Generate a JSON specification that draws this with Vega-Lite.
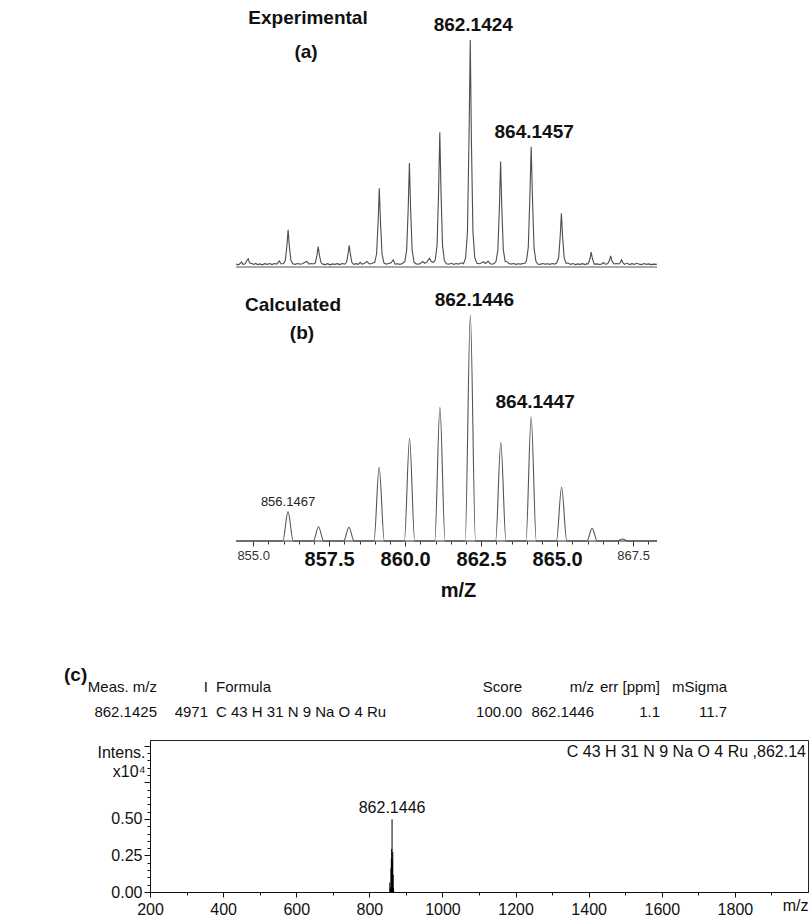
{
  "$schema": "https://vega.github.io/schema/vega-lite/v6.json",
  "padding": {"left": 64, "top": 0, "right": 0, "bottom": 0},
  "bounds": "flush",
  "spacing": 0,
  "config": {
    "view": {"stroke": null},
    "font": "Liberation Sans, Arial, sans-serif",
    "text": {"font": "Liberation Sans, Arial, sans-serif", "color": "#111"}
  },
  "datasets": {
    "experimental": [
      {"mz":854.44,"i":0.6},{"mz":854.52,"i":0.3},{"mz":854.58,"i":1.0},{"mz":854.62,"i":1.6},{"mz":854.67,"i":0.4},{"mz":854.74,"i":0.8},{"mz":854.80,"i":2.4},{"mz":854.84,"i":3.0},{"mz":854.88,"i":1.2},{"mz":854.95,"i":0.9},
      {"mz":855.02,"i":0.5},{"mz":855.08,"i":0.9},{"mz":855.15,"i":0.4},{"mz":855.22,"i":0.7},{"mz":855.30,"i":0.3},{"mz":855.38,"i":0.8},{"mz":855.46,"i":0.5},{"mz":855.55,"i":0.9},{"mz":855.62,"i":0.4},{"mz":855.70,"i":0.9},{"mz":855.78,"i":0.6},{"mz":855.86,"i":2.0},{"mz":855.92,"i":0.7},
      {"mz":856.00,"i":0.9},{"mz":856.06,"i":2.4},{"mz":856.11,"i":8.7},{"mz":856.15,"i":15.8},{"mz":856.19,"i":8.7},{"mz":856.24,"i":2.4},{"mz":856.30,"i":0.8},
      {"mz":856.38,"i":0.5},{"mz":856.46,"i":0.9},{"mz":856.54,"i":0.6},{"mz":856.62,"i":0.8},{"mz":856.70,"i":1.4},{"mz":856.77,"i":1.8},{"mz":856.84,"i":0.6},{"mz":856.91,"i":0.9},
      {"mz":856.99,"i":0.7},{"mz":857.05,"i":1.3},{"mz":857.10,"i":4.6},{"mz":857.14,"i":8.4},{"mz":857.18,"i":4.6},{"mz":857.23,"i":1.3},{"mz":857.29,"i":0.6},
      {"mz":857.37,"i":0.4},{"mz":857.45,"i":0.8},{"mz":857.53,"i":0.3},{"mz":857.61,"i":0.7},{"mz":857.69,"i":0.5},{"mz":857.77,"i":0.8},{"mz":857.85,"i":0.4},{"mz":857.93,"i":0.9},
      {"mz":858.01,"i":0.6},{"mz":858.07,"i":1.3},{"mz":858.12,"i":4.9},{"mz":858.16,"i":8.9},{"mz":858.20,"i":4.9},{"mz":858.25,"i":1.3},{"mz":858.31,"i":0.5},
      {"mz":858.39,"i":0.8},{"mz":858.46,"i":0.5},{"mz":858.52,"i":1.4},{"mz":858.58,"i":0.6},{"mz":858.66,"i":0.9},{"mz":858.74,"i":1.8},{"mz":858.82,"i":0.7},{"mz":858.90,"i":0.9},
      {"mz":859.00,"i":1.4},{"mz":859.06,"i":5.1},{"mz":859.11,"i":18.9},{"mz":859.15,"i":34.3},{"mz":859.19,"i":18.9},{"mz":859.24,"i":5.1},{"mz":859.30,"i":1.2},
      {"mz":859.38,"i":0.6},{"mz":859.46,"i":0.9},{"mz":859.54,"i":1.2},{"mz":859.61,"i":2.5},{"mz":859.67,"i":0.6},{"mz":859.75,"i":0.8},{"mz":859.83,"i":0.5},{"mz":859.91,"i":0.9},
      {"mz":859.99,"i":1.8},{"mz":860.05,"i":6.8},{"mz":860.10,"i":25.0},{"mz":860.14,"i":45.4},{"mz":860.18,"i":25.0},{"mz":860.23,"i":6.8},{"mz":860.29,"i":1.6},
      {"mz":860.36,"i":0.7},{"mz":860.43,"i":0.6},{"mz":860.50,"i":0.9},{"mz":860.58,"i":1.8},{"mz":860.64,"i":1.0},{"mz":860.72,"i":1.6},{"mz":860.80,"i":3.2},{"mz":860.86,"i":1.8},{"mz":860.93,"i":1.4},
      {"mz":860.99,"i":2.4},{"mz":861.05,"i":8.9},{"mz":861.10,"i":32.5},{"mz":861.14,"i":59.1},{"mz":861.18,"i":32.5},{"mz":861.23,"i":8.9},{"mz":861.29,"i":2.2},
      {"mz":861.36,"i":0.8},{"mz":861.44,"i":0.6},{"mz":861.52,"i":1.0},{"mz":861.60,"i":0.5},{"mz":861.68,"i":0.9},{"mz":861.76,"i":0.6},{"mz":861.84,"i":1.2},{"mz":861.92,"i":0.8},
      {"mz":861.99,"i":3.5},{"mz":862.05,"i":15.0},{"mz":862.10,"i":55.0},{"mz":862.1424,"i":100,"label":"862.1424"},{"mz":862.18,"i":55.0},{"mz":862.23,"i":15.0},{"mz":862.29,"i":3.5},
      {"mz":862.36,"i":1.0},{"mz":862.44,"i":0.8},{"mz":862.52,"i":1.2},{"mz":862.57,"i":1.7},{"mz":862.63,"i":0.9},{"mz":862.73,"i":1.9},{"mz":862.80,"i":0.8},{"mz":862.88,"i":0.6},{"mz":862.94,"i":1.0},
      {"mz":862.99,"i":1.9},{"mz":863.05,"i":6.9},{"mz":863.10,"i":25.4},{"mz":863.14,"i":46.1},{"mz":863.18,"i":25.4},{"mz":863.23,"i":6.9},{"mz":863.29,"i":1.8},
      {"mz":863.34,"i":1.8},{"mz":863.40,"i":1.0},{"mz":863.48,"i":0.6},{"mz":863.56,"i":0.9},{"mz":863.64,"i":0.5},{"mz":863.72,"i":0.8},{"mz":863.80,"i":0.6},{"mz":863.88,"i":0.9},{"mz":863.94,"i":1.0},
      {"mz":863.99,"i":2.1},{"mz":864.05,"i":7.9},{"mz":864.10,"i":29.0},{"mz":864.1457,"i":52.7,"label":"864.1457"},{"mz":864.19,"i":29.0},{"mz":864.24,"i":7.9},{"mz":864.30,"i":2.0},
      {"mz":864.36,"i":0.7},{"mz":864.44,"i":0.5},{"mz":864.52,"i":0.9},{"mz":864.60,"i":0.6},{"mz":864.68,"i":0.8},{"mz":864.76,"i":0.5},{"mz":864.84,"i":0.9},{"mz":864.92,"i":0.6},
      {"mz":864.99,"i":1.2},{"mz":865.05,"i":3.5},{"mz":865.10,"i":12.8},{"mz":865.14,"i":23.2},{"mz":865.18,"i":12.8},{"mz":865.23,"i":3.5},{"mz":865.29,"i":1.0},
      {"mz":865.36,"i":1.1},{"mz":865.44,"i":0.5},{"mz":865.52,"i":0.9},{"mz":865.60,"i":0.4},{"mz":865.68,"i":0.7},{"mz":865.76,"i":0.5},{"mz":865.84,"i":0.8},{"mz":865.92,"i":0.4},{"mz":865.97,"i":0.8},
      {"mz":866.02,"i":0.7},{"mz":866.08,"i":3.0},{"mz":866.12,"i":5.9},{"mz":866.16,"i":3.0},{"mz":866.22,"i":0.6},
      {"mz":866.30,"i":0.7},{"mz":866.38,"i":0.5},{"mz":866.46,"i":0.6},{"mz":866.52,"i":1.3},{"mz":866.58,"i":0.6},
      {"mz":866.66,"i":0.8},{"mz":866.72,"i":2.2},{"mz":866.76,"i":4.3},{"mz":866.80,"i":2.2},{"mz":866.86,"i":0.7},
      {"mz":866.94,"i":0.9},
      {"mz":867.03,"i":0.7},{"mz":867.08,"i":1.4},{"mz":867.12,"i":2.5},{"mz":867.16,"i":1.3},{"mz":867.22,"i":0.5},
      {"mz":867.30,"i":1.1},{"mz":867.38,"i":0.4},{"mz":867.46,"i":0.8},{"mz":867.54,"i":0.5},{"mz":867.62,"i":1.0},{"mz":867.70,"i":0.6},{"mz":867.78,"i":0.4},{"mz":867.86,"i":0.9},{"mz":867.94,"i":0.5},{"mz":868.02,"i":0.7},{"mz":868.10,"i":0.4},{"mz":868.18,"i":0.6},{"mz":868.28,"i":0.5}
    ],
    "calculated": [
      {"mz":854.44,"i":0},
      {"mz":855.9767,"i":0},{"mz":856.1467,"i":13.0,"label":"856.1467"},{"mz":856.3167,"i":0},
      {"mz":856.98,"i":0},{"mz":857.15,"i":6.3},{"mz":857.32,"i":0},
      {"mz":857.98,"i":0},{"mz":858.15,"i":6.1},{"mz":858.32,"i":0},
      {"mz":858.975,"i":0},{"mz":859.145,"i":32.6},{"mz":859.315,"i":0},
      {"mz":859.975,"i":0},{"mz":860.145,"i":45.4},{"mz":860.315,"i":0},
      {"mz":860.974,"i":0},{"mz":861.144,"i":59.2},{"mz":861.314,"i":0},
      {"mz":861.9746,"i":0},{"mz":862.1446,"i":100,"label":"862.1446"},{"mz":862.3146,"i":0},
      {"mz":862.977,"i":0},{"mz":863.147,"i":43.7},{"mz":863.317,"i":0},
      {"mz":863.9747,"i":0},{"mz":864.1447,"i":55.0,"label":"864.1447"},{"mz":864.3147,"i":0},
      {"mz":864.977,"i":0},{"mz":865.147,"i":23.8},{"mz":865.317,"i":0},
      {"mz":865.98,"i":0},{"mz":866.15,"i":5.6},{"mz":866.32,"i":0},
      {"mz":866.98,"i":0},{"mz":867.15,"i":0.9},{"mz":867.32,"i":0},
      {"mz":868.285,"i":0}
    ],
    "isotopes": [
      {"mz":856.1467,"c":0.0646},{"mz":857.15,"c":0.0313},{"mz":858.15,"c":0.0303},{"mz":859.145,"c":0.162},
      {"mz":860.145,"c":0.2257},{"mz":861.144,"c":0.2943},{"mz":862.1446,"c":0.4971,"label":"862.1446"},{"mz":863.147,"c":0.2172},
      {"mz":864.1447,"c":0.2734},{"mz":865.147,"c":0.1183},{"mz":866.15,"c":0.0278},{"mz":867.15,"c":0.0045}
    ],
    "table": [
      {"col":0,"row":"header","text":"(c)"},
      {"col":1,"row":"header","text":"Meas. m/z"},{"col":1,"row":"value","text":"862.1425"},
      {"col":2,"row":"header","text":"I"},{"col":2,"row":"value","text":"4971"},
      {"col":3,"row":"header","text":"Formula"},{"col":3,"row":"value","text":"C 43 H 31 N 9 Na O 4 Ru"},
      {"col":4,"row":"header","text":"Score"},{"col":4,"row":"value","text":"100.00"},
      {"col":5,"row":"header","text":"m/z"},{"col":5,"row":"value","text":"862.1446"},
      {"col":6,"row":"header","text":"err [ppm]"},{"col":6,"row":"value","text":"1.1"},
      {"col":7,"row":"header","text":"mSigma"},{"col":7,"row":"value","text":"11.7"}
    ]
  },
  "vconcat": [
    {
      "width": 507,
      "height": 283,
      "encoding": {
        "x": {"type": "quantitative", "scale": {"domain": [851.607, 868.285], "nice": false, "zero": false}, "axis": null},
        "y": {"type": "quantitative", "scale": {"domain": [-7.76, 117.74], "nice": false, "zero": false}, "axis": null}
      },
      "layer": [
        {
          "data": {"name": "experimental"},
          "mark": {"type": "line", "color": "#4d4d4d", "strokeWidth": 1.1},
          "encoding": {"x": {"field": "mz", "type": "quantitative"}, "y": {"field": "i", "type": "quantitative"}}
        },
        {
          "data": {"values": [{}]},
          "mark": {"type": "rule", "color": "#555", "strokeWidth": 1.2},
          "encoding": {"x": {"datum": 854.44}, "x2": {"datum": 868.285}, "y": {"datum": -0.665}}
        },
        {
          "data": {"name": "experimental"},
          "transform": [{"filter": "isValid(datum.label)"}],
          "mark": {"type": "text", "fontSize": 19, "fontWeight": "bold", "baseline": "bottom", "dx": 3, "dy": -5},
          "encoding": {"x": {"field": "mz", "type": "quantitative"}, "y": {"field": "i", "type": "quantitative"}, "text": {"field": "label"}}
        },
        {
          "data": {"values": [{}]},
          "mark": {"type": "text", "fontSize": 19, "fontWeight": "bold", "baseline": "middle"},
          "encoding": {"x": {"datum": 856.805}, "y": {"datum": 109.76}, "text": {"value": "Experimental"}}
        },
        {
          "data": {"values": [{}]},
          "mark": {"type": "text", "fontSize": 19, "fontWeight": "bold", "baseline": "middle"},
          "encoding": {"x": {"datum": 856.74}, "y": {"datum": 94.7}, "text": {"value": "(a)"}}
        }
      ]
    },
    {
      "width": 507,
      "height": 258,
      "encoding": {
        "x": {
          "type": "quantitative",
          "scale": {"domain": [851.607, 868.285], "nice": false, "zero": false},
          "axis": {
            "values": [855, 855.5, 856, 856.5, 857, 857.5, 858, 858.5, 859, 859.5, 860, 860.5, 861, 861.5, 862, 862.5, 863, 863.5, 864, 864.5, 865, 865.5, 866, 866.5, 867, 867.5, 868],
            "domain": false,
            "grid": false,
            "labelExpr": "datum.value % 2.5 === 0 ? format(datum.value, '.1f') : ''",
            "labelFontSize": {"condition": {"test": "datum.value === 855 || datum.value === 867.5", "value": 13}, "value": 20},
            "labelFontWeight": {"condition": {"test": "datum.value === 855 || datum.value === 867.5", "value": "normal"}, "value": "bold"},
            "labelColor": {"condition": {"test": "datum.value === 855 || datum.value === 867.5", "value": "#333"}, "value": "#111"},
            "tickSize": {"condition": {"test": "datum.value % 2.5 === 0", "value": 5}, "value": 3},
            "tickColor": "#333",
            "labelPadding": 3,
            "labelOverlap": false,
            "labelFlush": false,
            "labelBound": false,
            "title": "m/Z",
            "titleFontSize": 20,
            "titleFontWeight": "bold",
            "titleColor": "#111",
            "titleX": 308,
            "titleY": 49,
            "titleBaseline": "middle"
          }
        },
        "y": {"type": "quantitative", "scale": {"domain": [0, 114.16], "nice": false, "zero": false}, "axis": null}
      },
      "layer": [
        {
          "data": {"name": "calculated"},
          "mark": {"type": "line", "interpolate": "monotone", "color": "#555", "strokeWidth": 1.1},
          "encoding": {"x": {"field": "mz", "type": "quantitative"}, "y": {"field": "i", "type": "quantitative"}}
        },
        {
          "data": {"values": [{}]},
          "mark": {"type": "rule", "color": "#333", "strokeWidth": 1.2},
          "encoding": {"x": {"datum": 854.44}, "x2": {"datum": 868.285}, "y": {"datum": 0}}
        },
        {
          "data": {"name": "calculated"},
          "transform": [{"filter": "isValid(datum.label) && datum.i > 50"}],
          "mark": {"type": "text", "fontSize": 19, "fontWeight": "bold", "baseline": "bottom", "dx": 4, "dy": -5},
          "encoding": {"x": {"field": "mz", "type": "quantitative"}, "y": {"field": "i", "type": "quantitative"}, "text": {"field": "label"}}
        },
        {
          "data": {"name": "calculated"},
          "transform": [{"filter": "isValid(datum.label) && datum.i < 50"}],
          "mark": {"type": "text", "fontSize": 13, "baseline": "bottom", "dy": -3, "color": "#222"},
          "encoding": {"x": {"field": "mz", "type": "quantitative"}, "y": {"field": "i", "type": "quantitative"}, "text": {"field": "label"}}
        },
        {
          "data": {"values": [{}]},
          "mark": {"type": "text", "fontSize": 19, "fontWeight": "bold", "baseline": "middle"},
          "encoding": {"x": {"datum": 856.311}, "y": {"datum": 104.4}, "text": {"value": "Calculated"}}
        },
        {
          "data": {"values": [{}]},
          "mark": {"type": "text", "fontSize": 19, "fontWeight": "bold", "baseline": "middle"},
          "encoding": {"x": {"datum": 856.607}, "y": {"datum": 92.0}, "text": {"value": "(b)"}}
        }
      ]
    },
    {
      "width": 658,
      "height": 199,
      "data": {"name": "table"},
      "encoding": {
        "x": {"field": "col", "type": "quantitative", "scale": {"domain": [0, 1, 2, 3, 4, 5, 6, 7], "range": [-86, 7, 58, 66, 372, 444, 510, 577], "nice": false, "zero": false}, "axis": null},
        "y": {"field": "row", "type": "nominal", "scale": {"type": "point", "domain": ["header", "value"], "range": [146, 171], "padding": 0}, "axis": null},
        "text": {"field": "text"}
      },
      "layer": [
        {
          "transform": [{"filter": "datum.col !== 0 && datum.col !== 3"}],
          "mark": {"type": "text", "align": "right", "baseline": "middle", "fontSize": 15}
        },
        {
          "transform": [{"filter": "datum.col === 3"}],
          "mark": {"type": "text", "align": "left", "baseline": "middle", "fontSize": 15}
        },
        {
          "transform": [{"filter": "datum.col === 0"}],
          "mark": {"type": "text", "align": "left", "baseline": "middle", "fontSize": 19, "fontWeight": "bold", "dy": -12}
        }
      ]
    },
    {
      "width": 658,
      "height": 152,
      "view": {"stroke": "#222", "strokeWidth": 1},
      "encoding": {
        "x": {
          "type": "quantitative",
          "scale": {"domain": [200, 2000], "nice": false, "zero": false},
          "axis": {
            "values": [200, 300, 400, 500, 600, 700, 800, 900, 1000, 1100, 1200, 1300, 1400, 1500, 1600, 1700, 1800, 1900],
            "labelExpr": "datum.value % 200 === 0 ? datum.label : ''",
            "format": "d",
            "labelFontSize": 16,
            "labelColor": "#111",
            "tickSize": {"condition": {"test": "datum.value % 200 === 0", "value": 5}, "value": 3},
            "tickColor": "#111",
            "domainColor": "#111",
            "labelPadding": 4,
            "grid": false,
            "labelOverlap": false,
            "labelFlush": false,
            "title": "m/z",
            "titleFontSize": 16,
            "titleFontWeight": "normal",
            "titleColor": "#111",
            "titleAlign": "right",
            "titleX": 658,
            "titleY": 18,
            "titleBaseline": "alphabetic"
          }
        },
        "y": {
          "type": "quantitative",
          "scale": {"domain": [0, 1.04], "nice": false, "zero": false},
          "axis": {
            "values": [0, 0.05, 0.1, 0.15, 0.2, 0.25, 0.3, 0.35, 0.4, 0.45, 0.5, 0.55, 0.6, 0.65, 0.7, 0.75, 0.8, 0.85, 0.9, 0.95, 1.0],
            "labelExpr": "datum.value === 0 || datum.value === 0.25 || datum.value === 0.5 ? format(datum.value, '.2f') : ''",
            "labelFontSize": 16,
            "labelColor": "#111",
            "tickSize": {"condition": {"test": "datum.value === 0 || datum.value === 0.25 || datum.value === 0.5 || datum.value === 0.75 || datum.value === 1", "value": 6}, "value": 3},
            "tickColor": "#111",
            "domainColor": "#111",
            "labelPadding": 2,
            "grid": false,
            "labelOverlap": false,
            "title": ["Intens.", "x10⁴"],
            "titleAngle": 0,
            "titleAlign": "right",
            "titleBaseline": "top",
            "titleX": -5,
            "titleY": 4,
            "titleFontSize": 16,
            "titleFontWeight": "normal",
            "titleColor": "#111",
            "titleLineHeight": 19
          }
        }
      },
      "layer": [
        {
          "data": {"name": "isotopes"},
          "mark": {"type": "rule", "color": "#000", "strokeWidth": 1},
          "encoding": {"x": {"field": "mz", "type": "quantitative"}, "y": {"field": "c", "type": "quantitative"}, "y2": {"datum": 0}}
        },
        {
          "data": {"name": "isotopes"},
          "transform": [{"filter": "isValid(datum.label)"}],
          "mark": {"type": "text", "fontSize": 16, "baseline": "bottom", "dy": -3},
          "encoding": {"x": {"field": "mz", "type": "quantitative"}, "y": {"field": "c", "type": "quantitative"}, "text": {"field": "label"}}
        },
        {
          "data": {"values": [{}]},
          "mark": {"type": "text", "align": "right", "baseline": "middle", "fontSize": 16, "dx": -2},
          "encoding": {"x": {"datum": 2000}, "y": {"datum": 0.958}, "text": {"value": "C 43 H 31 N 9 Na O 4 Ru ,862.14"}}
        }
      ]
    }
  ]
}
